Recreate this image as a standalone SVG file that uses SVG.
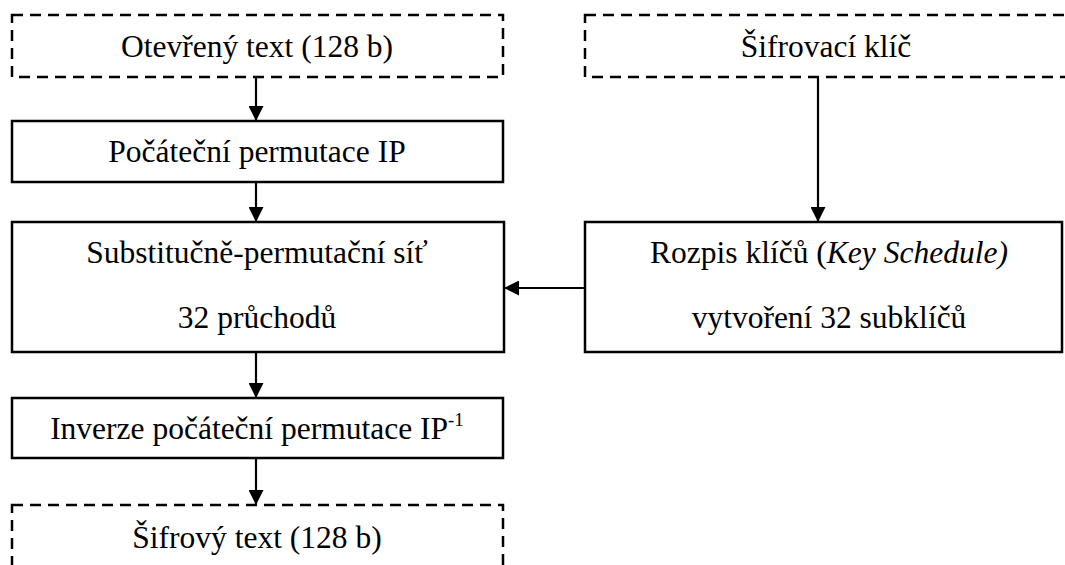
<svg xmlns="http://www.w3.org/2000/svg" width="1065" height="565" viewBox="0 0 1065 565">
<defs>
<marker id="ah" markerWidth="15" markerHeight="15" viewBox="0 0 15 15" refX="15" refY="7.5" orient="auto" markerUnits="userSpaceOnUse">
<path d="M0,0 L15,7.5 L0,15 Z" fill="#000"/>
</marker>
<style>
.box{fill:#fff;stroke:#000;stroke-width:2.5}
.dash{fill:#fff;stroke:#000;stroke-width:2.5;stroke-dasharray:11 7}
.c{stroke:#000;stroke-width:2.2;fill:none}
</style>
</defs>
<rect width="1065" height="565" fill="#fff"/>
<g id="plaintext">
<rect class="dash" x="12" y="15" width="491" height="62"/>
<text font-family="'Liberation Serif', serif" font-size="31.5" text-anchor="middle" x="257" y="57">Otevřený text (128 b)</text>
</g>
<g id="key">
<rect class="dash" x="585" y="15" width="500" height="62"/>
<text font-family="'Liberation Serif', serif" font-size="31.5" text-anchor="middle" x="826" y="57">Šifrovací klíč</text>
</g>
<g id="ip">
<rect class="box" x="12" y="121" width="491" height="61"/>
<text font-family="'Liberation Serif', serif" font-size="31.5" text-anchor="middle" x="257" y="162">Počáteční permutace IP</text>
</g>
<g id="spn">
<rect class="box" x="12" y="222" width="492" height="130"/>
<text font-family="'Liberation Serif', serif" font-size="31.5" text-anchor="middle" x="257" y="263">Substitučně-permutační síť</text>
<text font-family="'Liberation Serif', serif" font-size="31.5" text-anchor="middle" x="257" y="328">32 průchodů</text>
</g>
<g id="schedule">
<rect class="box" x="585" y="222" width="477" height="130"/>
<text font-family="'Liberation Serif', serif" font-size="31.5" text-anchor="middle" x="829" y="263">Rozpis klíčů (<tspan font-style="italic">Key Schedule)</tspan></text>
<text font-family="'Liberation Serif', serif" font-size="31.5" text-anchor="middle" x="829" y="328">vytvoření 32 subklíčů</text>
</g>
<g id="ipinv">
<rect class="box" x="12" y="398" width="491" height="60"/>
<text font-family="'Liberation Serif', serif" font-size="31.5" text-anchor="middle" x="257" y="439">Inverze počáteční permutace IP<tspan font-size="19" dy="-13">-1</tspan></text>
</g>
<g id="ciphertext">
<rect class="dash" x="12" y="505" width="491" height="80"/>
<text font-family="'Liberation Serif', serif" font-size="31.5" text-anchor="middle" x="257" y="548">Šifrový text (128 b)</text>
</g>
<g id="connectors">
<line class="c" x1="256" y1="77" x2="256" y2="121" marker-end="url(#ah)"/>
<line class="c" x1="256" y1="182" x2="256" y2="222" marker-end="url(#ah)"/>
<line class="c" x1="256" y1="352" x2="256" y2="398" marker-end="url(#ah)"/>
<line class="c" x1="256" y1="458" x2="256" y2="505" marker-end="url(#ah)"/>
<line class="c" x1="818" y1="77" x2="818" y2="222" marker-end="url(#ah)"/>
<line class="c" x1="585" y1="288" x2="504" y2="288" marker-end="url(#ah)"/>
</g>
</svg>
